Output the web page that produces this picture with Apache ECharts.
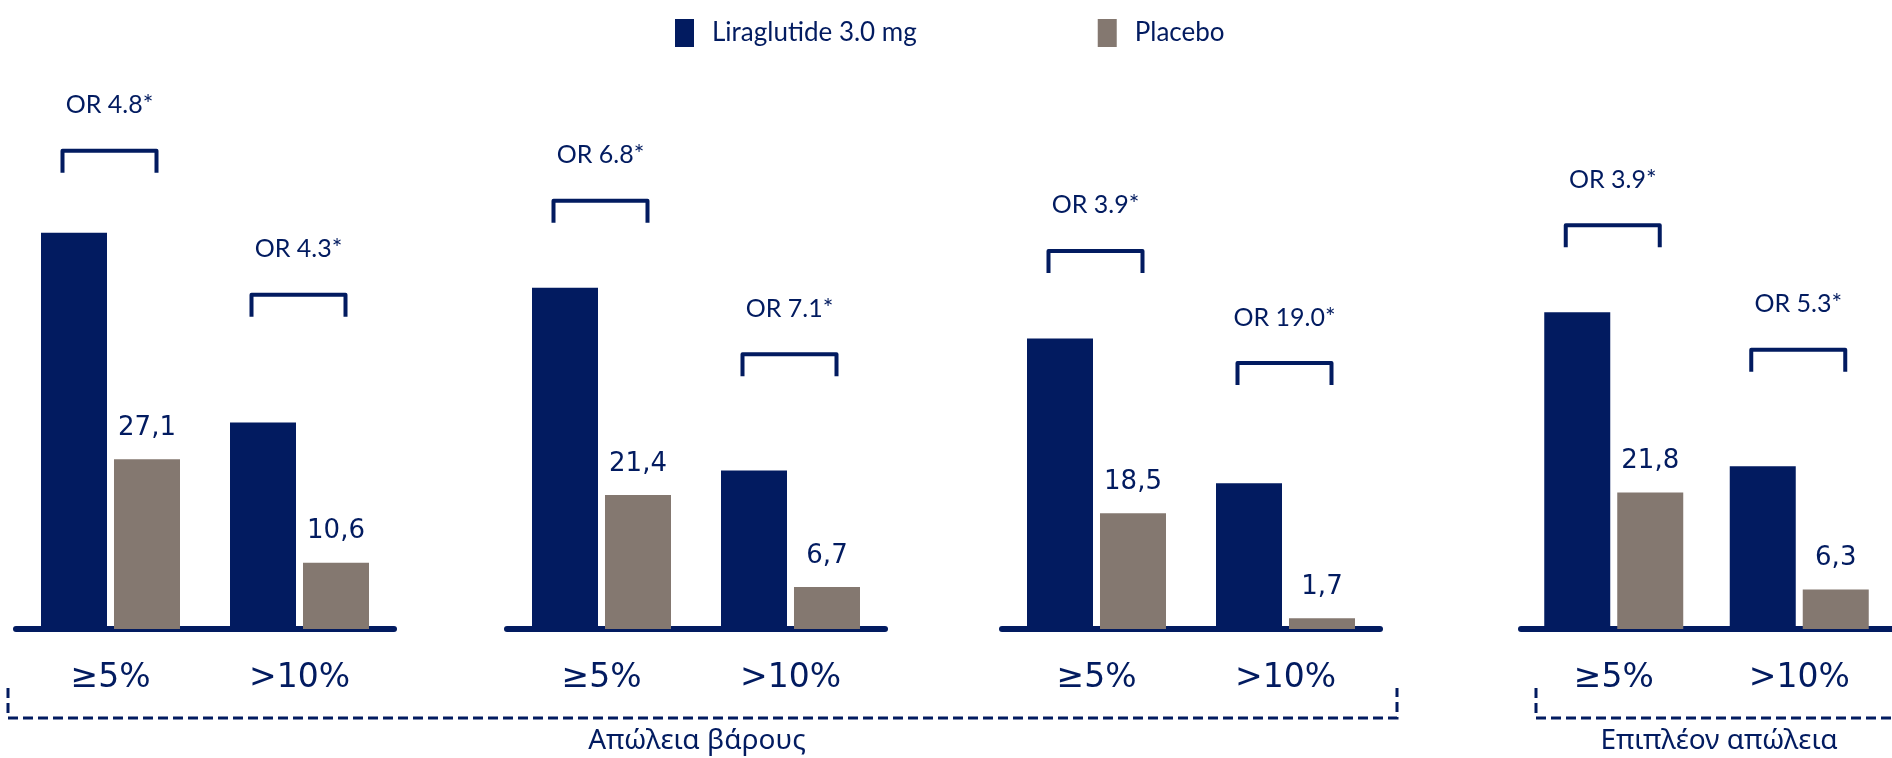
<!DOCTYPE html>
<html>
<head>
<meta charset="utf-8">
<script src="https://cdn.jsdelivr.net/npm/echarts@6/dist/echarts.min.js"></script>
<style>
  html, body { margin: 0; padding: 0; background: #ffffff; }
  #chart { width: 1892px; height: 758px; }
</style>
</head>
<body>
<div id="chart"></div>
<script>
// Response rates (% of patients) by weight-loss threshold, four study panels
const categories = ['≥5%', '>10%'];
const seriesNames = ['Liraglutide 3.0 mg', 'Placebo'];
const liraglutide = [[63.3, 33.0], [54.5, 25.3], [46.4, 23.3], [50.6, 26.0]];
const placebo = [[27.1, 10.6], [21.4, 6.7], [18.5, 1.7], [21.8, 6.3]];
const oddsRatios = [
  ['OR 4.8*', 'OR 4.3*'],
  ['OR 6.8*', 'OR 7.1*'],
  ['OR 3.9*', 'OR 19.0*'],
  ['OR 3.9*', 'OR 5.3*']
];
// height (in % units) at which each odds-ratio bracket sits
const bracketLevels = [[76.4, 53.4], [68.4, 43.9], [60.4, 42.5], [64.5, 44.6]];
const groupLabels = ['Απώλεια βάρους', 'Επιπλέον απώλεια'];

const NAVY = '#021b60';
const TAUPE = '#847870';
const panelLeft = [16, 507, 1002, 1521];
const panelWidth = 378;

const chart = echarts.init(document.getElementById('chart'), null, { renderer: 'canvas' });

const grids = [], xAxes = [], yAxes = [], series = [];

panelLeft.forEach((left, i) => {
  grids.push({ left: left, width: panelWidth, top: 3, bottom: 129, containLabel: false });
  xAxes.push({
    type: 'category',
    gridIndex: i,
    data: categories,
    offset: 2,
    axisLine: { show: true, lineStyle: { color: NAVY, width: 6 } },
    axisTick: { show: false },
    axisLabel: { color: NAVY, fontFamily: 'DejaVu Sans', fontSize: 33, margin: 31 }
  });
  yAxes.push({
    type: 'value', gridIndex: i, min: 0, max: 100,
    show: false, splitLine: { show: false }
  });
  series.push({
    name: seriesNames[0], type: 'bar', xAxisIndex: i, yAxisIndex: i,
    data: liraglutide[i], barWidth: 66, barGap: '10.6%',
    itemStyle: { color: NAVY }, silent: true
  });
  series.push({
    name: seriesNames[1], type: 'bar', xAxisIndex: i, yAxisIndex: i,
    data: placebo[i], barWidth: 66, barGap: '10.6%',
    itemStyle: { color: TAUPE }, silent: true,
    label: {
      show: true, position: 'top', distance: 18,
      color: NAVY, fontFamily: 'DejaVu Sans', fontSize: 26,
      formatter: p => String(p.value).replace('.', ',')
    }
  });
  // odds-ratio bracket over each pair of bars
  series.push({
    type: 'custom', xAxisIndex: i, yAxisIndex: i, silent: true, z: 5,
    data: categories.map((c, j) => [j, bracketLevels[i][j]]),
    renderItem: (params, api) => {
      const p = api.coord([api.value(0), api.value(1)]);
      const x = p[0] - 1, y = p[1];
      const half = 47, leg = 22;
      return {
        type: 'group',
        children: [
          {
            type: 'polyline',
            shape: { points: [[x - half, y + leg], [x - half, y], [x + half, y], [x + half, y + leg]] },
            style: { stroke: NAVY, lineWidth: 4, fill: null, lineJoin: 'round' }
          },
          {
            type: 'text', x: x, y: y - 33,
            style: {
              text: oddsRatios[i][params.dataIndex],
              fill: NAVY, font: '25px Lato', align: 'center', verticalAlign: 'bottom'
            }
          }
        ]
      };
    }
  });
});

const option = {
  animation: false,
  backgroundColor: '#ffffff',
  legend: {
    data: seriesNames,
    left: 670, top: 14,
    icon: 'rect', itemWidth: 19, itemHeight: 28, itemGap: 181,
    selectedMode: false,
    textStyle: { color: NAVY, fontFamily: 'Lato', fontSize: 26, padding: [0, 0, 0, 13] }
  },
  grid: grids,
  xAxis: xAxes,
  yAxis: yAxes,
  series: series,
  graphic: [
    {
      type: 'polyline', silent: true,
      shape: { points: [[8, 688], [8, 718], [1397, 718], [1397, 688]] },
      style: { stroke: NAVY, lineWidth: 3, fill: null, lineDash: [10, 5] }
    },
    {
      type: 'polyline', silent: true,
      shape: { points: [[1536, 688], [1536, 718], [1900, 718]] },
      style: { stroke: NAVY, lineWidth: 3, fill: null, lineDash: [10, 5] }
    },
    {
      type: 'text', silent: true, x: 697, y: 741,
      style: { text: groupLabels[0], fill: NAVY, font: '28px "Noto Sans"', align: 'center', verticalAlign: 'middle' }
    },
    {
      type: 'text', silent: true, x: 1719, y: 741,
      style: { text: groupLabels[1], fill: NAVY, font: '28px "Noto Sans"', align: 'center', verticalAlign: 'middle' }
    }
  ]
};

chart.setOption(option);
</script>
</body>
</html>
